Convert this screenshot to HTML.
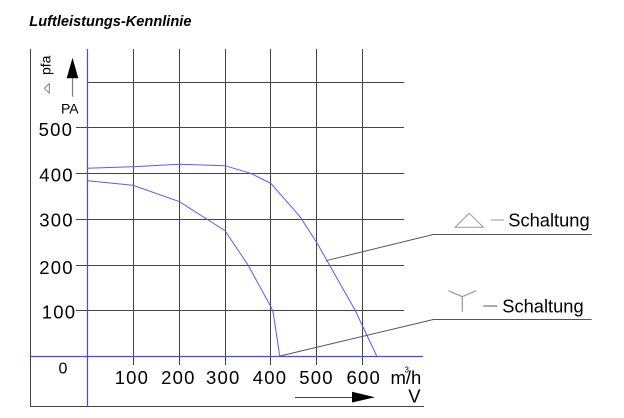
<!DOCTYPE html>
<html><head><meta charset="utf-8"><style>
html,body{margin:0;padding:0;background:#fff;}
svg{display:block;}
text{font-family:"Liberation Sans",Arial,sans-serif;fill:#000;}
.t{font-size:18.5px;letter-spacing:1.2px;}
</style></head><body>
<svg width="624" height="418" viewBox="0 0 624 418" xmlns="http://www.w3.org/2000/svg">
<rect width="624" height="418" fill="#fff"/>
<text x="29.3" y="26" style="font-size:14.6px;font-weight:bold;font-style:italic;">Luftleistungs-Kennlinie</text>

<!-- grid verticals -->
<g stroke="#444" stroke-width="1" fill="none">
<line x1="133.5" y1="49" x2="133.5" y2="365"/>
<line x1="179.5" y1="49" x2="179.5" y2="365"/>
<line x1="225.5" y1="49" x2="225.5" y2="365"/>
<line x1="270.5" y1="49" x2="270.5" y2="365"/>
<line x1="316.5" y1="49" x2="316.5" y2="365"/>
<line x1="362.5" y1="49" x2="362.5" y2="365"/>
<!-- horizontals -->
<line x1="88" y1="82.5" x2="404" y2="82.5"/>
<line x1="76" y1="127.5" x2="404" y2="127.5"/>
<line x1="76" y1="173.5" x2="404" y2="173.5"/>
<line x1="76" y1="219.5" x2="404" y2="219.5"/>
<line x1="76" y1="265.5" x2="404" y2="265.5"/>
<line x1="76" y1="310.5" x2="404" y2="310.5"/>
<!-- border -->
<line x1="30.5" y1="49" x2="30.5" y2="407"/>
<line x1="30" y1="406.5" x2="424" y2="406.5"/>
</g>

<!-- blue axes -->
<g stroke="#4545ff" stroke-width="1.2" fill="none">
<line x1="87.5" y1="49" x2="87.5" y2="407"/>
<line x1="30" y1="356.5" x2="423" y2="356.5"/>
</g>

<!-- curves -->
<g stroke="#5a5aff" stroke-width="1" fill="none">
<polyline points="87.3,168.3 133,166.7 179.5,164.3 225,165.7 250.7,173.3 271,183.5 300,216.7 317,243 355,310 376.7,356"/>
<polyline points="87.3,180.7 133,185.3 179.5,201.7 225,230.7 248,265 271.7,308.3 273.3,313.3 279.7,356"/>
</g>

<!-- leader lines -->
<g stroke="#555" stroke-width="1" fill="none">
<polyline points="280,356 433.3,319.5 591.7,319.5"/>
<polyline points="326,260.7 433.3,234.5 591.7,234.5"/>
</g>

<!-- legend symbols -->
<polygon points="455,227.3 483.3,227.3 469.3,213.3" fill="none" stroke="#999" stroke-width="1"/>
<line x1="490.7" y1="220" x2="504" y2="220" stroke="#aaa" stroke-width="1.2"/>
<text x="508.3" y="226.7" style="font-size:18.3px;">Schaltung</text>
<g stroke="#999" stroke-width="1.2" fill="none">
<line x1="448.3" y1="290.7" x2="462.3" y2="296.7"/>
<line x1="476" y1="290.7" x2="462.3" y2="296.7"/>
<line x1="462.3" y1="296.7" x2="462.3" y2="311.7"/>
</g>
<line x1="483.3" y1="306" x2="497.3" y2="306" stroke="#555" stroke-width="1"/>
<text x="502.3" y="312.3" style="font-size:18.3px;">Schaltung</text>

<!-- y axis label -->
<polygon points="72.5,57.7 66.7,78.3 78.3,78.3" fill="#000"/>
<line x1="72.5" y1="78" x2="72.5" y2="96.7" stroke="#777" stroke-width="1.2"/>
<text x="61" y="113.3" style="font-size:14px;">PA</text>
<text transform="translate(50.5,75) rotate(-90)" style="font-size:14px;">pfa</text>
<polygon points="44.3,88.3 49.3,83.5 49.3,93.1" fill="none" stroke="#777" stroke-width="0.9"/>

<!-- y tick labels -->
<text class="t" x="38.6" y="136">500</text>
<text class="t" x="39.3" y="181.7">400</text>
<text class="t" x="39.3" y="226.7">300</text>
<text class="t" x="39.3" y="274">200</text>
<text class="t" x="41.8" y="318.3">100</text>
<text x="58.5" y="373.3" style="font-size:16px;">0</text>

<!-- x tick labels -->
<text class="t" x="114.7" y="384">100</text>
<text class="t" x="161.1" y="384">200</text>
<text class="t" x="206" y="384">300</text>
<text class="t" x="252.8" y="384">400</text>
<text class="t" x="299.3" y="384">500</text>
<text class="t" x="346.5" y="384">600</text>
<text x="390.5" y="384" style="font-size:18.5px;">m/h</text>
<text x="404.5" y="372.3" style="font-size:8px;">3</text>
<text x="408.3" y="402.7" style="font-size:18.5px;">V</text>

<!-- x arrow -->
<line x1="295" y1="397.5" x2="353" y2="397.5" stroke="#444" stroke-width="1"/>
<polygon points="352,391.7 375,397.2 352,402.5" fill="#000"/>
</svg>
</body></html>
